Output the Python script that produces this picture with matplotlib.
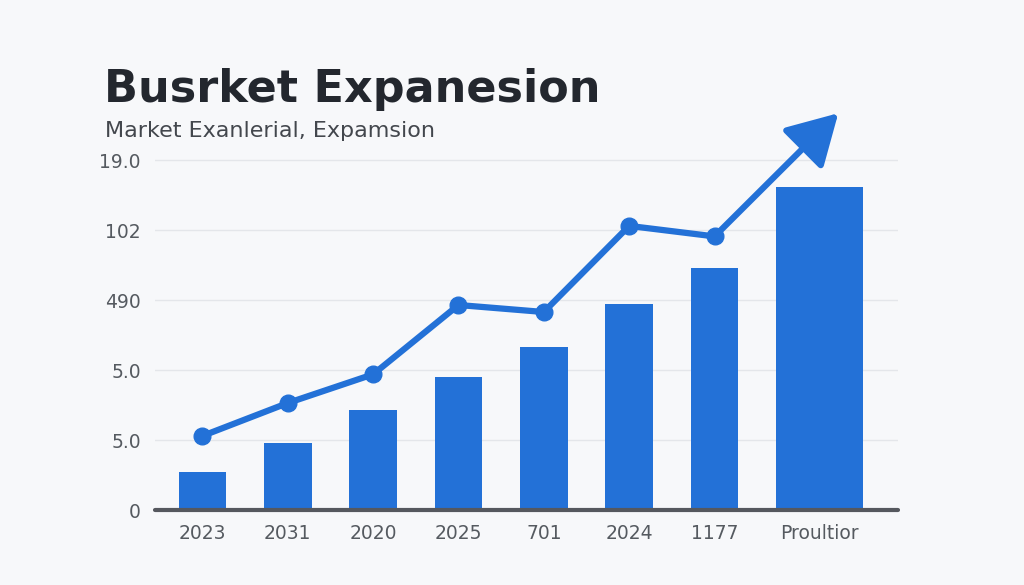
import numpy as np
import matplotlib.pyplot as plt

# chart values
categories = ["2023", "2031", "2020", "2025", "701", "2024", "1177", "Proultior"]
bar_values = [0.54, 0.96, 1.43, 1.90, 2.33, 2.94, 3.46, 4.61]
line_values = [1.06, 1.53, 1.94, 2.93, 2.83, 4.06, 3.91]
arrow_end = (7.45, 5.67)
ytick_labels = ["0", "5.0", "5.0", "490", "102", "19.0"]

blue = "#2371d7"
fig = plt.figure(figsize=(10.24, 5.85), dpi=100)
fig.patch.set_facecolor("#f7f8fa")

ax = fig.add_axes([0.151, 0.128, 0.726, 0.718])
ax.set_facecolor("none")

x = np.arange(len(categories), dtype=float)
x[-1] = 7.23
widths = [0.56] * (len(categories) - 1) + [1.02]
ax.bar(x, bar_values, width=widths, color=blue, zorder=2)

lx = np.arange(len(line_values))
ax.plot(lx, line_values, color=blue, lw=4.5, marker="o", ms=12,
        solid_capstyle="round", zorder=3)
ax.annotate("", xy=arrow_end, xytext=(lx[-1], line_values[-1]),
            arrowprops=dict(arrowstyle="-|>,head_length=1.4,head_width=0.8",
                            color=blue, lw=4.5, mutation_scale=22,
                            shrinkA=0, shrinkB=0),
            annotation_clip=False, zorder=3)

ax.set_xlim(-0.56, 8.15)
ax.set_ylim(0, 6)
ax.set_yticks(range(6))
ax.set_yticklabels(ytick_labels)
ax.set_xticks(x)
ax.set_xticklabels(categories)
ax.tick_params(axis="both", length=0, labelsize=13.5, colors="#555a60")
ax.tick_params(axis="y", pad=10)
ax.tick_params(axis="x", pad=10)
for yv in range(1, 6):
    ax.axhline(yv, color="#e4e6ea", lw=1, zorder=1)
for s in ["top", "right", "left"]:
    ax.spines[s].set_visible(False)
ax.spines["bottom"].set_color("#55585e")
ax.spines["bottom"].set_linewidth(3)
ax.spines["bottom"].set_capstyle("round")

fig.text(0.102, 0.825, "Busrket Expanesion", fontsize=32, fontweight="bold",
         color="#23272e")
fig.text(0.103, 0.765, "Market Exanlerial, Expamsion", fontsize=16,
         color="#43474d")

fig.savefig("out.png", dpi=100, facecolor=fig.get_facecolor())
